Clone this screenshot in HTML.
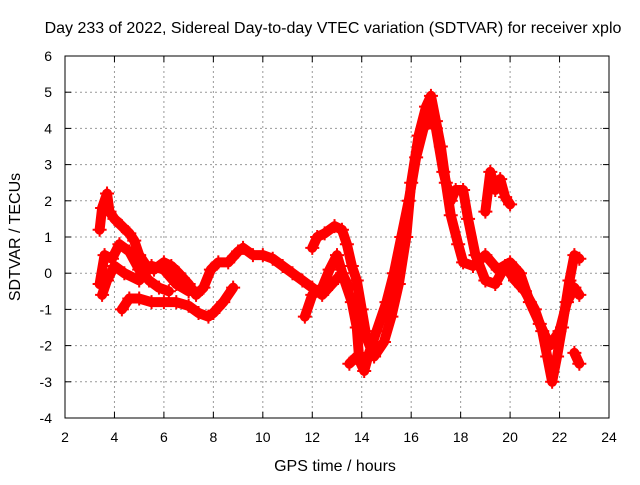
<!DOCTYPE html>
<html><head><meta charset="utf-8"><style>
body{margin:0;background:#fff}
svg text{font-family:"Liberation Sans",sans-serif;font-size:14px;fill:#000}
svg text.big{font-size:16px}
</style></head><body>
<svg id="chart" width="640" height="480" xmlns="http://www.w3.org/2000/svg">
<text class="big" x="333" y="33" text-anchor="middle">Day 233 of 2022, Sidereal Day-to-day VTEC variation (SDTVAR) for receiver xplo</text>
<g id="grid"></g>
<g id="series"></g>
<rect x="65" y="56" width="544" height="362" fill="none" stroke="#000" stroke-width="1"/>
<g id="ticks"></g>
<text class="big" x="335" y="471" text-anchor="middle">GPS time / hours</text>
<text class="big" transform="translate(20,237) rotate(-90)" text-anchor="middle">SDTVAR / TECUs</text>
</svg>
<script>
const xTicks=[2,4,6,8,10,12,14,16,18,20,22,24];
const yTicks=[-4,-3,-2,-1,0,1,2,3,4,5,6];
const trackA=[[3.4,1.2],[3.5,1.8],[3.7,2.2],[3.8,1.7],[4.0,1.5],[4.3,1.3],[4.6,1.1],[4.8,0.9],[5.0,0.5],[5.3,0.2],[5.6,0.1],[6.0,0.3],[6.3,0.2],[6.6,0.0],[7.0,-0.3],[7.3,-0.6],[7.6,-0.4],[7.9,0.1],[8.2,0.3],[8.6,0.3],[9.0,0.6],[9.2,0.7],[9.6,0.5],[10.0,0.5],[10.4,0.4],[10.8,0.2],[11.2,0.0],[11.6,-0.2],[12.0,-0.4],[12.4,-0.6],[12.8,-0.3],[13.2,0.0],[13.5,-0.4]];
const trackB=[[3.4,-0.3],[3.6,0.5],[3.9,0.4],[4.2,0.8],[4.6,0.6],[5.0,0.1],[5.4,-0.2],[5.8,-0.4],[6.2,-0.5]];
const trackC=[[3.5,-0.6],[3.7,-0.2],[4.0,0.2],[4.4,0.0],[5.0,-0.2],[5.5,0.2],[6.0,0.1],[6.5,-0.3],[7.0,-0.5]];
const trackD=[[4.3,-1.0],[4.6,-0.7],[5.0,-0.7],[5.5,-0.8],[6.0,-0.8],[6.5,-0.8],[7.0,-0.9],[7.4,-1.1],[7.8,-1.2],[8.0,-1.1],[8.4,-0.8],[8.8,-0.4]];
const trackE=[[12.0,0.7],[12.2,1.0],[12.5,1.1],[12.9,1.3],[13.2,1.2],[13.4,0.8],[13.6,0.2],[13.8,-0.2],[14.0,-1.0],[14.2,-1.8],[14.5,-2.3],[14.9,-1.9],[15.2,-1.2],[15.5,-0.3],[15.8,1.0],[16.0,2.5],[16.3,3.8],[16.6,4.6],[16.8,4.9],[17.0,4.2],[17.2,3.5],[17.4,2.5],[17.6,1.6],[17.9,0.8],[18.1,0.3],[18.5,0.2],[19.0,0.5],[19.5,0.1],[20.0,0.3],[20.4,0.0],[20.8,-0.8],[21.2,-1.4],[21.6,-2.0],[22.0,-1.6],[22.3,-0.8],[22.6,-0.4],[22.8,-0.6]];
const trackF=[[11.7,-1.2],[12.0,-0.6],[12.4,-0.4],[12.7,0.1],[13.0,0.5],[13.3,-0.2],[13.6,-0.8],[13.8,-1.5],[13.9,-2.4],[14.1,-2.7],[14.3,-2.2],[14.6,-1.6],[15.0,-0.8],[15.3,0.0],[15.6,1.0],[15.9,2.0],[16.2,3.2],[16.5,4.0],[16.8,4.3],[17.0,4.0],[17.3,2.8],[17.6,2.0],[17.8,2.3],[18.1,2.3],[18.3,1.5],[18.6,0.5],[19.0,-0.2],[19.4,-0.3],[19.8,0.2],[20.2,-0.2],[20.6,-0.5],[21.0,-1.0],[21.3,-1.6],[21.5,-2.3],[21.7,-3.0],[21.9,-2.3],[22.1,-1.5],[22.4,-0.2],[22.6,0.5],[22.8,0.4]];
const trackG=[[19.0,1.7],[19.2,2.8],[19.4,2.3],[19.6,2.6],[19.8,2.1],[20.0,1.9]];
const trackH=[[13.5,-2.5],[13.8,-2.3]];
const trackI=[[22.6,-2.2],[22.8,-2.5]];
const tracks=[trackA,trackB,trackC,trackD,trackE,trackF,trackG,trackH,trackI];
const NS="http://www.w3.org/2000/svg";
const X=v=>65+(v-2)*544/22, Y=v=>418-(v+4)*362/10;
const grid=document.getElementById('grid'),ticks=document.getElementById('ticks'),ser=document.getElementById('series');
function mk(t,a,p){const e=document.createElementNS(NS,t);for(const k in a)e.setAttribute(k,a[k]);p.appendChild(e);return e;}
xTicks.forEach(t=>{const x=X(t);
 if(t>2&&t<24){const g=mk('line',{x1:x,x2:x,y1:56,y2:418,stroke:'#999','stroke-dasharray':'2,3'},grid);
 
 }
 const l=mk('line',{x1:x,x2:x,y1:418,y2:412,stroke:'#000'},ticks);
 
 
 mk('line',{x1:x,x2:x,y1:56,y2:62,stroke:'#000'},ticks);
 const tx=mk('text',{x:x,y:442,'text-anchor':'middle'},ticks);tx.textContent=t;
 
 });
yTicks.forEach(t=>{const y=Y(t);
 if(t>-4&&t<6){const g=mk('line',{x1:65,x2:609,y1:y,y2:y,stroke:'#999','stroke-dasharray':'2,3'},grid);
 
 }
 const l=mk('line',{x1:65,x2:71,y1:y,y2:y,stroke:'#000'},ticks);
 
 
 mk('line',{x1:603,x2:609,y1:y,y2:y,stroke:'#000'},ticks);
 const tx=mk('text',{x:52,y:y+5,'text-anchor':'end'},ticks);tx.textContent=t;
 
 });
tracks.forEach(tr=>{
 const pl=mk('polyline',{points:tr.map(p=>X(p[0])+','+Y(p[1])).join(' '),fill:'none',stroke:'#f00','stroke-width':10,'stroke-linejoin':'round','stroke-linecap':'round'},ser);
 
 
 tr.forEach(p=>{const x=X(p[0]),y=Y(p[1]);
  const m=mk('path',{d:`M${x-7},${y}H${x+7}M${x},${y-7}V${y+7}`,stroke:'#f00','stroke-width':2},ser);
  
  });
});
</script>
</body></html>
